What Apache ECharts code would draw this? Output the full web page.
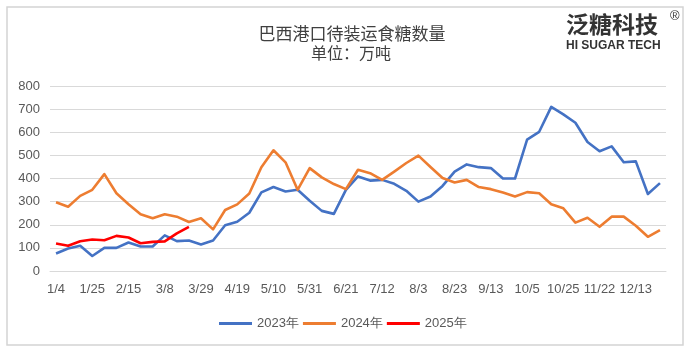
<!DOCTYPE html>
<html>
<head>
<meta charset="utf-8">
<title>巴西港口待装运食糖数量</title>
<script src="https://cdn.jsdelivr.net/npm/echarts@6/dist/echarts.min.js"></script>
<style>
  html, body {
    margin: 0;
    padding: 0;
    background: #fff;
  }
  #sugarChart {
    width: 692px;
    height: 354px;
  }
</style>
</head>
<body>
<div id="sugarChart"></div>
<script>
// 周度日期（横轴每隔两周显示一个标签）
const weeks = [
  '1/4', '1/11', '1/18', '1/25', '2/1', '2/8', '2/15', '2/22', '3/1', '3/8',
  '3/15', '3/22', '3/29', '4/5', '4/12', '4/19', '4/26', '5/3', '5/10', '5/17',
  '5/24', '5/31', '6/7', '6/14', '6/21', '6/28', '7/5', '7/12', '7/19', '7/26',
  '8/3', '8/9', '8/16', '8/23', '8/30', '9/6', '9/13', '9/20', '9/27', '10/5',
  '10/11', '10/18', '10/25', '11/1', '11/15', '11/22', '11/29', '12/6', '12/13', '12/20',
  '12/27'
]
// 待装运量，单位：万吨
const y2023 = [
  76, 97, 109, 65, 100, 100, 123, 106, 106, 154,
  129, 132, 115, 132, 198, 213, 252, 340, 363, 344,
  351, 304, 260, 247, 351, 409, 391, 394, 377, 347,
  300, 322, 368, 430, 461, 449, 445, 400, 400, 568,
  602, 710, 677, 641, 558, 518, 539, 470, 474, 333,
  380
]
const y2024 = [
  297, 278, 325, 351, 419, 336, 289, 245, 228, 245,
  235, 212, 228, 180, 264, 288, 335, 449, 522, 470,
  351, 445, 405, 376, 354, 438, 423, 394, 430, 467,
  499, 450, 402, 383, 394, 363, 354, 339, 322, 341,
  336, 289, 271, 209, 230, 191, 235, 235, 196, 148,
  177
]
const y2025 = [119, 109, 129, 136, 133, 152, 145, 120, 126, 128, 163, 191]
const yTicks = [0, 100, 200, 300, 400, 500, 600, 700, 800]
const seriesNames = ['2023年', '2024年', '2025年']
const seriesColors = ['#4472C4', '#ED7D31', '#FF0000']

const labelColor = '#595959'
const gridColor = '#d9d9d9'
const labelFont = 'Liberation Sans, Arial, sans-serif'
const cjkFont = 'Noto Sans CJK SC, sans-serif'

const myChart = echarts.init(document.getElementById('sugarChart'), null, {
  renderer: 'canvas'
})

const lineSeries = [y2023, y2024, y2025].map((data, i) => {
  return {
    name: seriesNames[i],
    type: 'line',
    data: data,
    symbol: 'none',
    smooth: false,
    lineStyle: {
      width: 2.6,
      color: seriesColors[i],
      join: 'round'
    },
    itemStyle: {
      color: seriesColors[i]
    },
    z: 3 + i
  }
})

myChart.setOption({
  backgroundColor: '#fff',
  animation: false,
  title: [
    {
      text: '巴西港口待装运食糖数量',
      left: 347,
      top: 20,
      textAlign: 'center',
      textStyle: {
        fontFamily: cjkFont,
        fontSize: 17,
        fontWeight: 'normal',
        color: '#404040'
      }
    },
    {
      text: '单位：万吨',
      left: 346,
      top: 40,
      textAlign: 'center',
      textStyle: {
        fontFamily: cjkFont,
        fontSize: 16,
        fontWeight: 'normal',
        color: '#404040'
      }
    }
  ],
  graphic: [
    // 外边框
    {
      type: 'rect',
      shape: { x: 7, y: 7, width: 676, height: 338 },
      style: { fill: 'none', stroke: '#d4d4d4', lineWidth: 1.5 },
      silent: true
    },
    // 右上角标识
    {
      type: 'text',
      left: 566,
      top: 13,
      style: {
        text: '泛糖科技',
        fontFamily: cjkFont,
        fontSize: 23,
        fontWeight: 'bold',
        fill: '#333'
      }
    },
    {
      type: 'text',
      left: 566,
      top: 40,
      style: {
        text: 'HI SUGAR TECH',
        fontFamily: labelFont,
        fontSize: 12,
        fontWeight: 'bold',
        fill: '#333'
      }
    },
    {
      type: 'text',
      left: 670,
      top: 10,
      style: {
        text: '®',
        fontFamily: labelFont,
        fontSize: 13,
        fill: '#333'
      }
    }
  ],
  legend: {
    data: seriesNames,
    left: 214,
    top: 312,
    icon: 'rect',
    itemWidth: 33,
    itemHeight: 3,
    itemGap: 4,
    textStyle: {
      fontFamily: labelFont,
      fontSize: 13,
      color: labelColor
    }
  },
  grid: {
    left: 50,
    right: 26,
    top: 86,
    bottom: 83,
    containLabel: false
  },
  xAxis: {
    type: 'category',
    data: weeks,
    boundaryGap: true,
    axisLine: {
      show: true,
      lineStyle: { color: gridColor, width: 1 }
    },
    axisTick: { show: false },
    axisLabel: {
      interval: 2,
      margin: 12,
      fontFamily: labelFont,
      fontSize: 13,
      color: labelColor
    }
  },
  yAxis: {
    type: 'value',
    min: yTicks[0],
    max: yTicks[yTicks.length - 1],
    interval: 100,
    axisLine: { show: false },
    axisTick: { show: false },
    axisLabel: {
      margin: 10,
      fontFamily: labelFont,
      fontSize: 13,
      color: labelColor
    },
    splitLine: {
      show: true,
      lineStyle: { type: 'solid', color: gridColor, width: 1 }
    }
  },
  series: lineSeries
})
</script>
</body>
</html>
